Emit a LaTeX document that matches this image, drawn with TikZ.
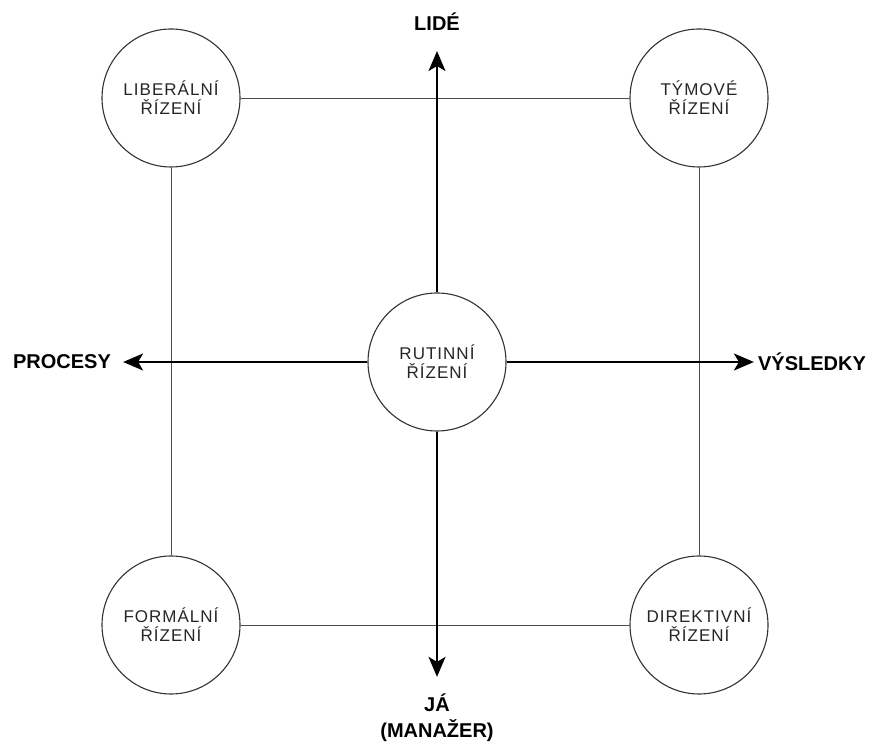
\documentclass[tikz,border=0pt]{standalone}
\usepackage{fontspec}
\setmainfont{Liberation Sans}
\newfontfamily\circfont[LetterSpace=6]{Liberation Sans}
\usetikzlibrary{arrows.meta,positioning}

\begin{document}
\begin{tikzpicture}[x=1pt,y=1pt,
 styl/.style={draw=black!80,circle,line width=1.1pt,minimum size=138pt,inner sep=0pt,align=center,
  font=\circfont\fontsize{17}{19}\selectfont,text=black!85},
 lab/.style={font=\bfseries\fontsize{20}{26}\selectfont,align=center,inner sep=0pt},
 ramec/.style={draw=black!70,line width=0.9pt},
 arr/.style={-{Stealth[length=20pt,width=17pt,inset=5pt]},line width=1.8pt}]
\useasboundingbox (0,0) rectangle (874,746);
% styly rizeni
\node[styl] (lib) at (171,648) {LIBERÁLNÍ\\ŘÍZENÍ};
\node[styl] (tym) at (699,648) {TÝMOVÉ\\ŘÍZENÍ};
\node[styl] (for) at (171,121) {FORMÁLNÍ\\ŘÍZENÍ};
\node[styl] (dir) at (699,121) {DIREKTIVNÍ\\ŘÍZENÍ};
\draw[ramec] (lib)--(tym); \draw[ramec] (tym)--(dir);
\draw[ramec] (dir)--(for); \draw[ramec] (for)--(lib);
% osy
\node[lab] (lide) at (437,724) {LIDÉ};
\node[lab] (proc) at (62,384) {PROCESY};
\node[lab] (vysl) at (812,384) {VÝSLEDKY};
\node[lab] (ja) at (437,28) {JÁ\\(MANAŽER)};
\node[styl,fill=white] (rut) at (437,384) {RUTINNÍ\\ŘÍZENÍ};
\draw[arr,shorten >=20pt] (rut)--(lide);
\draw[arr,shorten >=12pt] (rut)--(proc);
\draw[arr,shorten >=4pt] (rut)--(vysl);
\draw[arr,shorten >=17pt] (rut)--(ja);
\end{tikzpicture}
\end{document}
